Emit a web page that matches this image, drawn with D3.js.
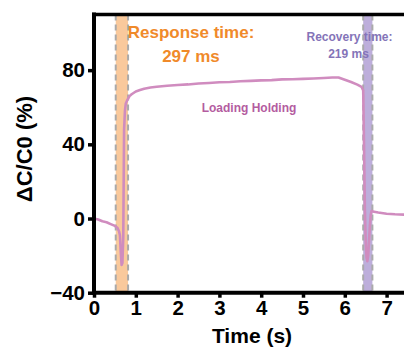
<!DOCTYPE html>
<html><head><meta charset="utf-8">
<script src="https://cdn.jsdelivr.net/npm/d3@7"></script>
<style>
html,body{margin:0;padding:0;background:#fff;overflow:hidden}
text{font-family:"Liberation Sans",Arial,sans-serif;font-weight:bold}
</style></head>
<body>
<svg id="c" width="404" height="351"></svg>
<script>
const time = [0,0.1,0.2,0.3,0.4,0.5,0.56,0.6,0.62,0.64,0.66,0.68,0.7,0.71,0.72,0.74,0.76,0.8,0.85,0.9,1.0,1.1,1.2,1.35,1.5,1.75,2.0,2.25,2.5,2.75,3.0,3.25,3.5,3.75,4.0,4.25,4.5,4.75,5.0,5.25,5.5,5.7,5.85,6.0,6.15,6.3,6.4,6.44,6.46,6.48,6.5,6.52,6.54,6.56,6.58,6.6,6.62,6.64,6.66,6.7,6.8,7.0,7.2,7.5];
const dcc = [0,-0.5,-1.5,-2,-3,-4,-5,-7,-9,-18,-25,-24,-10,20,48,58,62,64,66,67,68.5,69.3,70,70.6,71,71.6,72,72.3,72.8,73.1,73.5,73.6,74,74.2,74.5,74.6,75,75.1,75.3,75.5,75.8,76,76,74.8,73.6,72.2,71,69,40,5,-12,-21,-23,-20,-12,-4,2,4,4,3.6,3.2,2.6,2.3,2];
const xTicks = [0,1,2,3,4,5,6,7];
const yTicks = [-40,0,40,80];
const respBand = [0.52,0.815];
const recBand = [6.44,6.66];
const xDomain = [0,7.5];
const yDomain = [-40,110];

const svg = d3.select("#c");
const x = d3.scaleLinear().domain(xDomain).range([94,94+7.5*41.8]);
const y = d3.scaleLinear().domain(yDomain).range([292.7,14.5]);

// bands
svg.append("rect").attr("x",x(respBand[0])).attr("width",x(respBand[1])-x(respBand[0]))
  .attr("y",y(110)).attr("height",y(-40)-y(110)).attr("fill","#f9c99c");
svg.append("rect").attr("x",x(recBand[0])).attr("width",x(recBand[1])-x(recBand[0]))
  .attr("y",y(110)).attr("height",y(-40)-y(110)).attr("fill","#bdaedb");
[...respBand,...recBand].forEach(v=>{
  svg.append("line").attr("x1",x(v)).attr("x2",x(v)).attr("y1",y(110)).attr("y2",y(-40))
    .attr("stroke","#aaaaaa").attr("stroke-width",2).attr("stroke-dasharray","6,4");
});

// curve
const pts = time.map((t,i)=>[t,dcc[i]]);
svg.append("path").datum(pts)
  .attr("d",d3.line().x(d=>x(d[0])).y(d=>y(d[1])))
  .attr("fill","none").attr("stroke","#d08cbf").attr("stroke-width",2.6).attr("stroke-linejoin","round");

// axes
const xa = svg.append("g").attr("transform",`translate(0,${y(-40)})`)
  .call(d3.axisBottom(x).tickValues(xTicks).tickSize(5).tickPadding(3).tickFormat(d3.format("d")));
const ya = svg.append("g").attr("transform",`translate(${x(0)},0)`)
  .call(d3.axisLeft(y).tickValues(yTicks).tickSize(6).tickPadding(3).tickFormat(d3.format("d")));
[xa,ya].forEach(g=>{
  g.select(".domain").attr("stroke","#000").attr("stroke-width",4);
  g.selectAll(".tick line").attr("stroke","#000").attr("stroke-width",3.5);
  g.selectAll(".tick text").attr("fill","#000").style("font-size","20.5px").style("font-family","Liberation Sans, Arial, sans-serif").style("font-weight","bold");
});
xa.select(".domain").attr("d",`M${x(0)-2},0H404`);
ya.select(".domain").attr("d",`M0,${y(110)-2}V${y(-40)+2}`);
// top border
svg.append("line").attr("x1",x(0)-2).attr("x2",404).attr("y1",y(110)).attr("y2",y(110))
  .attr("stroke","#000").attr("stroke-width",3.5);

// labels
svg.append("text").attr("x",252).attr("y",343).attr("text-anchor","middle")
  .style("font-size","21px").attr("fill","#000").text("Time (s)");
svg.append("text").attr("transform","translate(32,149) rotate(-90)").attr("text-anchor","middle")
  .style("font-size","22px").attr("fill","#000").text("ΔC/C0 (%)");

svg.append("text").attr("x",191).attr("y",37.5).attr("text-anchor","middle")
  .style("font-size","17px").attr("fill","#f08a2a").text("Response time:");
svg.append("text").attr("x",191).attr("y",61.5).attr("text-anchor","middle")
  .style("font-size","17px").attr("fill","#f08a2a").text("297 ms");
svg.append("text").attr("x",349.5).attr("y",40.5).attr("text-anchor","middle")
  .style("font-size","12px").attr("fill","#8474b8").text("Recovery time:");
svg.append("text").attr("x",348.5).attr("y",57.5).attr("text-anchor","middle")
  .style("font-size","12px").attr("fill","#8474b8").text("219 ms");
svg.append("text").attr("x",249).attr("y",111.5).attr("text-anchor","middle")
  .style("font-size","12px").attr("fill","#b45ca0").text("Loading Holding");
</script>
</body></html>
